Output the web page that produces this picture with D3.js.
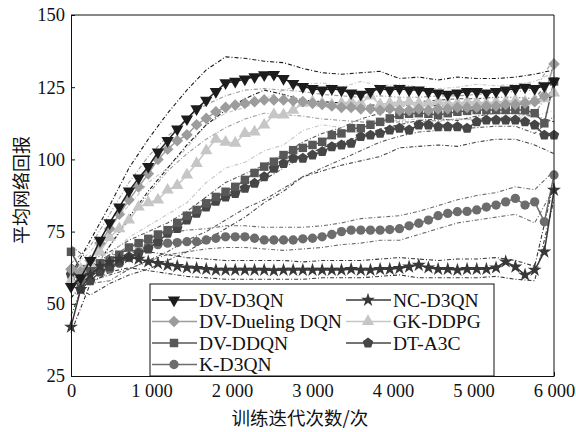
<!DOCTYPE html>
<html>
<head>
<meta charset="utf-8">
<script src="https://cdn.jsdelivr.net/npm/d3@7"></script>
<style>
  body { margin: 0; background: #fff; }
  svg { display: block; }
  text { font-family: "Liberation Serif", "Times New Roman", serif; fill: #111; }
</style>
</head>
<body>
<svg id="chart" width="576" height="432"></svg>
<script>
// iteration grid: main curves sampled every 120 iterations, bands every 240
const mainStep = 120;
const bandStep = 240;

const xTicks = [0, 1000, 2000, 3000, 4000, 5000, 6000];
const xTickLabels = ["0", "1 000", "2 000", "3 000", "4 000", "5 000", "6 000"];
const yTicks = [25, 50, 75, 100, 125, 150];

const seriesNames = ["DV-D3QN", "NC-D3QN", "DV-Dueling DQN", "GK-DDPG", "DV-DDQN", "DT-A3C", "K-D3QN"];

const dvD3qn = [56, 59, 65, 72, 78, 83.5, 89, 93.5, 97.5, 102.5, 106.5, 110.5, 114, 117.5, 120.5, 123.5, 126.5, 127, 127.8, 128.6,
  129.3, 129.4, 128, 126.3, 125.2, 124.5, 124, 124.5, 124, 123, 122.5, 123.5, 124.5, 124, 124.5, 124, 124, 123.5, 123, 122.5,
  123, 123.5, 123.5, 123, 123.5, 124, 124.5, 125, 124.5, 125.5, 127];
const dvD3qnUp = [60, 72, 84, 97, 107, 116, 124, 131, 135.5, 135, 134, 133.5, 131.5, 130, 129.5, 130, 130.5, 128, 128.5, 127.5, 128.5, 128, 128, 128.5, 129.5, 131];
const dvD3qnLo = [52, 60, 70, 80, 89, 97, 105, 112, 117, 121, 124, 122.5, 120.5, 120, 119.5, 118.5, 119, 120, 119.5, 118.5, 119, 119.5, 119, 119.5, 119.5, 122];

const ncD3qn = [42, 55, 60, 63, 64.5, 65.5, 66, 65.5, 64.6, 64, 63.4, 63, 62.5, 62.3, 62, 61.7, 61.7, 61.7, 61.7, 61.7,
  61.7, 61.5, 61.7, 61.7, 61.7, 61.7, 61.7, 61.7, 61.7, 62, 61.7, 61.7, 62, 62, 62.3, 62.8, 63.4, 62.5, 62, 62,
  61.7, 62, 62, 62, 62.5, 64.6, 62.8, 60, 61.7, 68, 89.4];
const ncD3qnUp = [46, 63, 67, 68.5, 68, 67, 66, 65.5, 65, 65, 65, 65, 64.5, 65, 65, 65, 65.5, 66, 65.5, 65, 65.5, 65.5, 66, 65, 63, 92];
const ncD3qnLo = [40, 57, 61, 62.5, 61.5, 60.5, 59.5, 59, 58.5, 58.5, 58.5, 58.5, 58.5, 59, 59, 59, 59.5, 60, 59, 59, 59, 59, 59.5, 58.5, 58, 86];

const dvDueling = [62, 61, 65, 71, 76, 81, 86, 90.5, 95, 100, 103.5, 106.5, 108.5, 112, 114.2, 116.5, 118, 118.8, 119.4, 120,
  120.6, 120.6, 120.6, 120.3, 120, 119.4, 119, 118.5, 118, 118, 117.5, 117.5, 117, 117.5, 117, 117, 117.5, 117, 117.5, 117.5,
  118, 118, 118, 118.5, 118.5, 119, 119, 119.5, 120, 122, 133];
const dvDuelingUp = [64, 70, 81, 92, 101, 108, 114, 119, 122, 124, 124.5, 124, 123.5, 122.5, 122, 121.5, 122, 121.5, 121.5, 122, 122, 122.5, 123, 123.5, 124, 135];
const dvDuelingLo = [58, 60, 70, 79, 88, 96, 102, 107, 111, 114, 116, 115.5, 115, 114, 113.5, 113, 112.5, 113, 113, 113.5, 114, 114, 114.5, 115, 116, 125];

const gkDdpg = [58, 62, 64, 68, 73, 76, 79, 83.5, 85, 86, 89.4, 91, 94.6, 98.6, 103, 107, 106, 105.6, 109, 109.5,
  111.9, 115.5, 115.4, 117, 119.5, 120, 119.5, 119, 119.5, 120, 119.5, 122, 119, 119.5, 119.5, 120, 119.5, 119.5, 120, 119.5,
  119.5, 120, 120, 119.5, 120, 120, 120.5, 120, 120.5, 121, 123];
const gkDdpgUp = [62, 68, 77, 84, 92, 97, 104, 112, 116, 118, 121, 124, 126, 126.5, 125, 127, 125.5, 126, 125, 124.5, 125, 126, 125.5, 126, 127, 130];
const gkDdpgLo = [55, 60, 67, 73, 77, 81, 85, 92, 97, 99, 103, 105, 110, 112, 111, 114, 113, 113.5, 114, 113, 114, 113.5, 114, 114.5, 115, 117];

const dvDdqn = [68, 62, 62, 64, 65, 67, 69.5, 71, 72.5, 74, 75.5, 78, 80.5, 82.5, 84.8, 87, 88.8, 90.5, 92.9, 95.3,
  97.5, 99.2, 101.5, 103.2, 104, 105, 106.1, 108.4, 109, 110.8, 110.8, 112, 113, 114.2, 115.4, 115.8, 116, 115.8, 115.4, 116,
  116.5, 116.8, 117.1, 117.1, 117.1, 117.1, 117.1, 117.1, 116, 112.5, 127];
const dvDdqnUp = [70, 65, 68, 72, 75, 78, 82, 87, 92, 95, 98, 102, 106, 109, 111, 114, 116, 118, 120, 120.5, 121, 121, 121.5, 121.5, 121, 129];
const dvDdqnLo = [64, 58, 60, 62, 65, 68, 72, 75, 79, 83, 86, 90, 94, 97, 100, 103, 106, 108, 109.5, 110, 110.5, 111, 111.5, 111.5, 109, 115];

const dtA3c = [60, 55, 58, 61, 62.8, 64.5, 66.3, 67.5, 69, 71.5, 74.4, 76.1, 79, 81.3, 83.5, 85.5, 87, 88.2, 90, 91.7,
  94, 96.9, 98.6, 100.4, 100.4, 101.5, 102.7, 104.4, 105, 105.6, 107.9, 108.4, 109, 110.2, 110.8, 110.2, 111.9, 111.9, 111.3, 111.3,
  111.3, 110.8, 113, 113.6, 113.6, 113.6, 113.6, 113, 111.9, 108.4, 108.4];
const dtA3cUp = [63, 60, 64, 67, 70, 75, 79, 83, 87, 90, 93, 97, 101, 104, 106, 108, 110.5, 112, 113.5, 114, 113.5, 115, 116, 116, 115, 113];
const dtA3cLo = [57, 53, 57, 60, 62, 65, 68, 72, 76, 80, 85, 89, 94, 96, 98, 99.5, 101, 104, 104.5, 105, 104.5, 106, 107, 107, 105, 102];

const kD3qn = [60.5, 58, 61, 62, 62, 64, 66, 68, 70, 70.5, 71, 71.2, 71.5, 71.5, 72.1, 72.7, 73.2, 73.2, 73.2, 72.7,
  72.1, 72.1, 72.1, 72.1, 72.5, 72.7, 73.2, 74, 75, 75.5, 75.5, 75.5, 75.5, 75.7, 76, 77, 77.9, 79, 80.5, 81.3,
  81.9, 82, 82.5, 83.5, 84.2, 85.3, 86.5, 84.2, 85.3, 78.4, 94.6];
const kD3qnUp = [63, 63, 66, 70, 73, 74.5, 75.5, 76, 77, 77, 76.5, 76.5, 76.5, 77, 78, 79.5, 80, 80.5, 82, 84, 86, 87.5, 88.5, 90.5, 89.5, 96];
const kD3qnLo = [56, 57, 58, 62, 65, 67, 68, 69, 69.5, 69.5, 69, 68.5, 69, 69.5, 70.5, 71, 72, 72, 74, 76, 78, 79, 80, 81, 78, 90];

// pentagon marker for DT-A3C
const symbolPentagon = {
  draw(ctx, size) {
    const r = Math.sqrt(size / 2.378);
    for (let i = 0; i < 5; i++) {
      const a = -Math.PI / 2 + i * 2 * Math.PI / 5;
      const px = r * Math.cos(a), py = r * Math.sin(a);
      if (i === 0) ctx.moveTo(px, py); else ctx.lineTo(px, py);
    }
    ctx.closePath();
  }
};

const styles = {
  "DV-D3QN":        { color: "#1c1c1c", symbol: d3.symbolTriangle, size: 66, rotate: 180 },
  "NC-D3QN":        { color: "#383838", symbol: d3.symbolStar, size: 60, rotate: 0 },
  "DV-Dueling DQN": { color: "#9c9c9c", symbol: d3.symbolSquare, size: 68, rotate: 45 },
  "GK-DDPG":        { color: "#c6c6c6", symbol: d3.symbolTriangle, size: 66, rotate: 0 },
  "DV-DDQN":        { color: "#585858", symbol: d3.symbolSquare, size: 72, rotate: 0 },
  "DT-A3C":         { color: "#464646", symbol: symbolPentagon, size: 72, rotate: 0 },
  "K-D3QN":         { color: "#6c6c6c", symbol: d3.symbolCircle, size: 68, rotate: 0 }
};

const series = [
  { name: "K-D3QN", values: kD3qn, up: kD3qnUp, lo: kD3qnLo },
  { name: "DT-A3C", values: dtA3c, up: dtA3cUp, lo: dtA3cLo },
  { name: "DV-DDQN", values: dvDdqn, up: dvDdqnUp, lo: dvDdqnLo },
  { name: "NC-D3QN", values: ncD3qn, up: ncD3qnUp, lo: ncD3qnLo },
  { name: "GK-DDPG", values: gkDdpg, up: gkDdpgUp, lo: gkDdpgLo },
  { name: "DV-Dueling DQN", values: dvDueling, up: dvDuelingUp, lo: dvDuelingLo },
  { name: "DV-D3QN", values: dvD3qn, up: dvD3qnUp, lo: dvD3qnLo }
];

const plot = { left: 71, right: 554, top: 15, bottom: 376 };

const x = d3.scaleLinear().domain([0, 6000]).range([plot.left, plot.right]);
const y = d3.scaleLinear().domain([25, 150]).range([plot.bottom, plot.top]);

const svg = d3.select("#chart");

const mainLine = d3.line().x((d, i) => x(i * mainStep)).y(d => y(d));
const bandLine = d3.line().x((d, i) => x(i * bandStep)).y(d => y(d));

// confidence bands (dash-dot)
const bands = svg.append("g").attr("class", "bands");
series.forEach(s => {
  const st = styles[s.name];
  [s.up, s.lo].forEach(arr => {
    bands.append("path")
      .attr("d", bandLine(arr))
      .attr("fill", "none")
      .attr("stroke", st.color)
      .attr("stroke-width", 1.1)
      .attr("stroke-dasharray", "4,2,1,2");
  });
});

// main curves with markers
const curves = svg.append("g").attr("class", "curves");
series.forEach(s => {
  const st = styles[s.name];
  const g = curves.append("g");
  g.append("path")
    .attr("d", mainLine(s.values))
    .attr("fill", "none")
    .attr("stroke", st.color)
    .attr("stroke-width", 1.5);
  const sym = d3.symbol().type(st.symbol).size(st.size);
  g.selectAll("path.mk")
    .data(s.values)
    .join("path")
    .attr("class", "mk")
    .attr("d", sym)
    .attr("transform", (d, i) => `translate(${x(i * mainStep)},${y(d)}) rotate(${st.rotate})`)
    .attr("fill", st.color);
});

// axes
const xAxis = d3.axisBottom(x)
  .tickValues(xTicks)
  .tickFormat((d, i) => xTickLabels[i])
  .tickSizeInner(-4).tickSizeOuter(0).tickPadding(8);
const yAxis = d3.axisLeft(y)
  .tickValues(yTicks)
  .tickSizeInner(-4).tickSizeOuter(0).tickPadding(6);

const gx = svg.append("g").attr("transform", `translate(0,${plot.bottom})`).call(xAxis);
const gy = svg.append("g").attr("transform", `translate(${plot.left},0)`).call(yAxis);
[gx, gy].forEach(g => {
  g.selectAll("text").style("font-size", "18.5px").attr("fill", "#111");
  g.selectAll("line, path").attr("stroke", "#111");
});

// frame top and right
svg.append("path")
  .attr("d", `M${plot.left},${plot.top}H${plot.right}V${plot.bottom}`)
  .attr("fill", "none")
  .attr("stroke", "#111")
  .attr("stroke-width", 1);

// legend
const legendOrder = [
  ["DV-D3QN", 0, 0], ["NC-D3QN", 1, 0],
  ["DV-Dueling DQN", 0, 1], ["GK-DDPG", 1, 1],
  ["DV-DDQN", 0, 2], ["DT-A3C", 1, 2],
  ["K-D3QN", 0, 3]
];
const lg = svg.append("g");
lg.append("rect")
  .attr("x", 150).attr("y", 284)
  .attr("width", 344).attr("height", plot.bottom - 284)
  .attr("fill", "#fff").attr("stroke", "#111").attr("stroke-width", 1);
const colX = [152, 346];
legendOrder.forEach(([name, c, r]) => {
  const st = styles[name];
  const lx = colX[c], ly = 300 + r * 21.5;
  lg.append("line")
    .attr("x1", lx).attr("x2", lx + 45)
    .attr("y1", ly).attr("y2", ly)
    .attr("stroke", st.color).attr("stroke-width", 1.4);
  lg.append("path")
    .attr("d", d3.symbol().type(st.symbol).size(st.size)())
    .attr("transform", `translate(${lx + 22},${ly}) rotate(${st.rotate})`)
    .attr("fill", st.color);
  lg.append("text")
    .attr("x", lx + 47).attr("y", ly)
    .attr("dy", "0.35em")
    .style("font-size", "19.5px")
    .text(name);
});

// axis titles
svg.append("text")
  .attr("x", 300).attr("y", 417)
  .attr("text-anchor", "middle")
  .attr("dominant-baseline", "central")
  .style("font-family", "'Noto Sans CJK SC', sans-serif")
  .style("font-size", "18.5px")
  .text("训练迭代次数/次");

svg.append("text")
  .attr("transform", "translate(20,190) rotate(-90)")
  .attr("text-anchor", "middle")
  .attr("dominant-baseline", "central")
  .style("font-family", "'Noto Sans CJK SC', sans-serif")
  .style("font-size", "18px")
  .text("平均网络回报");
</script>
</body>
</html>
